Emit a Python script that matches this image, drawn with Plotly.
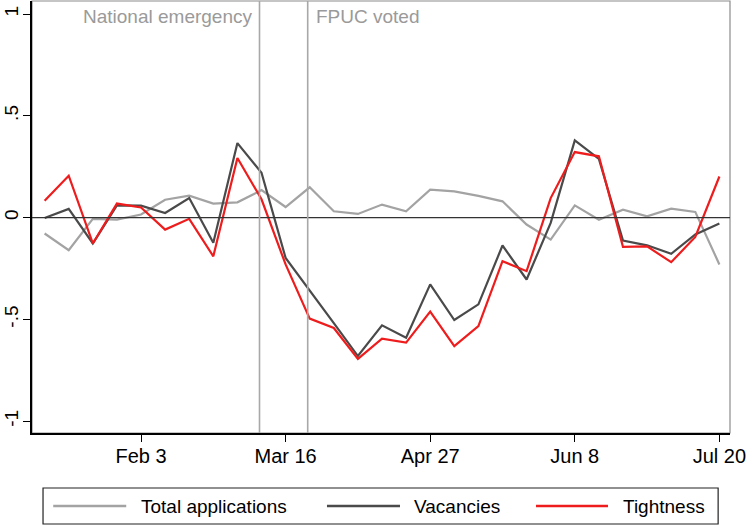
import plotly.graph_objects as go

# weekly series, Jan 6 - Jul 20 2020
weeks = ["2020-01-06", "2020-01-13", "2020-01-20", "2020-01-27", "2020-02-03",
         "2020-02-10", "2020-02-17", "2020-02-24", "2020-03-02", "2020-03-09",
         "2020-03-16", "2020-03-23", "2020-03-30", "2020-04-06", "2020-04-13",
         "2020-04-20", "2020-04-27", "2020-05-04", "2020-05-11", "2020-05-18",
         "2020-05-25", "2020-06-01", "2020-06-08", "2020-06-15", "2020-06-22",
         "2020-06-29", "2020-07-06", "2020-07-13", "2020-07-20"]

applications = [-0.078, -0.16, -0.006, -0.01, 0.015, 0.088, 0.108, 0.069, 0.075, 0.135,
                0.052, 0.149, 0.031, 0.018, 0.064, 0.031, 0.137, 0.129, 0.107, 0.08,
                -0.034, -0.108, 0.06, -0.01, 0.039, 0.006, 0.044, 0.028, -0.23]
vacancies = [-0.002, 0.043, -0.127, 0.06, 0.059, 0.023, 0.096, -0.124, 0.366, 0.22,
             -0.198, -0.355, -0.518, -0.68, -0.529, -0.59, -0.328, -0.503, -0.426, -0.137,
             -0.304, -0.026, 0.379, 0.288, -0.113, -0.136, -0.178, -0.083, -0.029]
tightness = [0.083, 0.206, -0.127, 0.069, 0.05, -0.059, -0.006, -0.19, 0.293, 0.09,
             -0.23, -0.496, -0.542, -0.694, -0.595, -0.614, -0.462, -0.631, -0.533, -0.214,
             -0.263, 0.096, 0.322, 0.301, -0.144, -0.141, -0.219, -0.095, 0.202]

names = ["Total applications", "Vacancies", "Tightness"]
colors = ["#a3a3a3", "#4a4a4a", "#ee1c1c"]

events = ["2020-03-08 10:00", "2020-03-22 10:00"]
event_labels = ["National emergency", "FPUC voted"]

xticks = ["2020-02-03", "2020-03-16", "2020-04-27", "2020-06-08", "2020-07-20"]
xticklabels = ["Feb 3", "Mar 16", "Apr 27", "Jun 8", "Jul 20"]
yticks = [-1, -0.5, 0, 0.5, 1]
yticklabels = ["-1", "-.5", "0", ".5", "1"]

font = "Liberation Sans, Arial, Helvetica, sans-serif"

fig = go.Figure()
for ys, nm, c in zip([applications, vacancies, tightness], names, colors):
    fig.add_trace(go.Scatter(x=weeks, y=ys, name=nm, mode="lines",
                             line=dict(color=c, width=2.2), showlegend=False))

# zero line
fig.add_hline(y=0, line=dict(color="#333333", width=1.2))

# event lines and labels
for d in events:
    fig.add_vline(x=d, line=dict(color="#a8a8a8", width=1.6))
fig.add_annotation(x=events[0], y=1, yref="paper", yanchor="top", xanchor="right",
                   xshift=-6, yshift=-3, text=event_labels[0], showarrow=False,
                   font=dict(size=19, color="#9a9a9a", family=font))
fig.add_annotation(x=events[1], y=1, yref="paper", yanchor="top", xanchor="left",
                   xshift=6, yshift=-3, text=event_labels[1], showarrow=False,
                   font=dict(size=19, color="#9a9a9a", family=font))

# plot region outline (top/right)
fig.add_shape(type="rect", xref="paper", yref="paper", x0=0, x1=1, y0=0, y1=1,
              line=dict(color="#8c8c8c", width=1.2), layer="below")

# hand-made legend box (Stata style)
fig.add_shape(type="rect", xref="paper", yref="paper", x0=0.0158, x1=0.983,
              y0=-0.2106, y1=-0.1273, line=dict(color="#222222", width=1.2))
leg_line = [(0.0304, 0.1350), (0.4226, 0.5272), (0.7221, 0.8252)]
leg_text = [0.1533, 0.5444, 0.8438]
for (a, b), t, nm, c in zip(leg_line, leg_text, names, colors):
    fig.add_shape(type="line", xref="paper", yref="paper", x0=a, x1=b,
                  y0=-0.169, y1=-0.169, line=dict(color=c, width=2.4))
    fig.add_annotation(x=t, y=-0.169, xref="paper", yref="paper", xanchor="left",
                       yanchor="middle", text=nm, showarrow=False,
                       font=dict(size=19, color="black", family=font))

fig.update_layout(
    width=749, height=526,
    margin=dict(l=32, r=19, t=1, b=93),
    paper_bgcolor="white", plot_bgcolor="white",
    font=dict(family=font, size=19, color="black"),
    xaxis=dict(type="date", range=["2020-01-02 08:00", "2020-07-23 02:00"],
               tickvals=xticks, ticktext=xticklabels, ticks="outside", ticklen=7,
               tickwidth=1.2, tickcolor="black", showgrid=False, zeroline=False,
               showline=True, linecolor="black", linewidth=1.5, automargin=False,
               ticklabelstandoff=-3, tickfont=dict(size=20)),
    yaxis=dict(range=[-1.058, 1.064], tickvals=yticks, ticktext=yticklabels,
               ticks="outside", ticklen=7, tickwidth=1.2, tickcolor="black",
               tickangle=-90, showgrid=False, zeroline=False, showline=True,
               linecolor="black", linewidth=1.5, automargin=False,
               ticklabelstandoff=-2, tickfont=dict(size=19)),
)

fig.write_html("out.html", config={"displayModeBar": False},
               post_script="document.body.style.margin='0';")
